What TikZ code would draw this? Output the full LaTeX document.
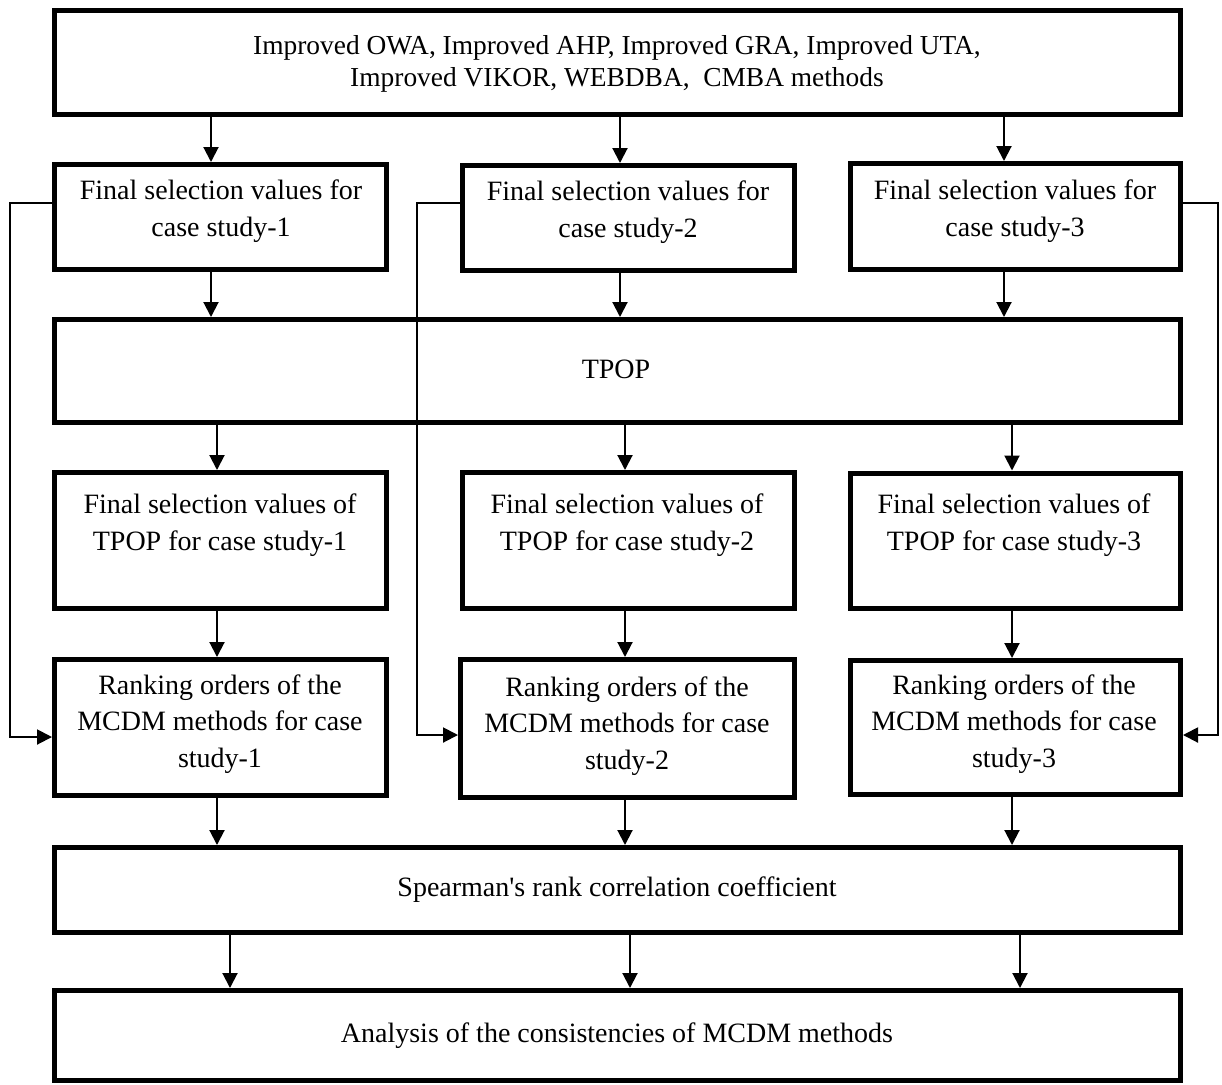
\documentclass[tikz,border=0pt]{standalone}
\usepackage{fontspec}
\setmainfont{Liberation Serif}[Ligatures=TeXOff]
\usetikzlibrary{arrows.meta}
\begin{document}
\begin{tikzpicture}[x=0.5pt,y=-0.5pt,
  box/.style={draw, line width=2.5pt, rectangle, inner sep=0pt},
  wide/.style={box, minimum width=563pt},
  small/.style={box, minimum width=166pt},
  txt/.style={align=center, inner sep=0pt, font=\fontsize{14pt}{18.3pt}\selectfont},
  arr/.style={line width=1pt, -{Triangle[length=7.5pt,width=7.5pt]}},
  link/.style={line width=1pt}]
\useasboundingbox (0,0) rectangle (1222,1084);
% boxes
\node[wide, minimum height=52pt] (top) at (617.5,62.5) {};
\node[small, minimum height=52.5pt] (f1) at (220.5,217) {};
\node[small, minimum height=52.5pt] (f2) at (628.5,218) {};
\node[small, minimum width=165pt, minimum height=53pt] (f3) at (1015.5,216.5) {};
\node[wide, minimum height=51.5pt] (tpop) at (617.5,371) {};
\node[small, minimum height=68pt] (t1) at (220.5,540.5) {};
\node[small, minimum height=68pt] (t2) at (628.5,540.5) {};
\node[small, minimum width=165pt, minimum height=67.5pt] (t3) at (1015.5,540.5) {};
\node[small, minimum height=68pt] (r1) at (220.5,727.5) {};
\node[small, minimum width=167pt, minimum height=69pt] (r2) at (627.5,728.5) {};
\node[small, minimum width=165pt, minimum height=67pt] (r3) at (1015.5,727.5) {};
\node[wide, minimum height=42.5pt] (sp) at (617.5,890) {};
\node[wide, minimum height=45pt] (an) at (617.5,1035.5) {};
% texts
\node[txt, font=\fontsize{13.7pt}{16pt}\selectfont] (toptxt) at (617,64) {Improved OWA, Improved AHP, Improved GRA, Improved UTA,\\Improved VIKOR, WEBDBA,\ \ CMBA methods};
\node[txt] (f1txt) at (221,211) {Final selection values for\\case study-1};
\node[txt] (f2txt) at (628,212) {Final selection values for\\case study-2};
\node[txt] (f3txt) at (1015,211) {Final selection values for\\case study-3};
\node[txt] (tpoptxt) at (616,369) {TPOP};
\node[txt] (t1txt) at (220,525) {Final selection values of\\TPOP for case study-1};
\node[txt] (t2txt) at (627,525) {Final selection values of\\TPOP for case study-2};
\node[txt] (t3txt) at (1014,525) {Final selection values of\\TPOP for case study-3};
\node[txt] (r1txt) at (220,724) {Ranking orders of the\\MCDM methods for case\\study-1};
\node[txt] (r2txt) at (627,726) {Ranking orders of the\\MCDM methods for case\\study-2};
\node[txt] (r3txt) at (1014,724) {Ranking orders of the\\MCDM methods for case\\study-3};
\node[txt] (sptxt) at (617,890) {Spearman's rank correlation coefficient};
\node[txt] (antxt) at (617,1036) {Analysis of the consistencies of MCDM methods};
% column coordinates
\coordinate (a1) at (211,0);
\coordinate (a2) at (620,0);
\coordinate (a3) at (1004,0);
\coordinate (b1) at (217,0);
\coordinate (b2) at (625,0);
\coordinate (b3) at (1012,0);
\coordinate (c1) at (230,0);
\coordinate (c2) at (630,0);
\coordinate (c3) at (1020,0);
\coordinate (s1) at (10,0);
\coordinate (s2) at (417,0);
\coordinate (s3) at (1218,0);
% vertical arrows
\draw[arr] (top.south -| a1) -- (f1.north -| a1);
\draw[arr] (top.south -| a2) -- (f2.north -| a2);
\draw[arr] (top.south -| a3) -- (f3.north -| a3);
\draw[arr] (f1.south -| a1) -- (tpop.north -| a1);
\draw[arr] (f2.south -| a2) -- (tpop.north -| a2);
\draw[arr] (f3.south -| a3) -- (tpop.north -| a3);
\draw[arr] (tpop.south -| b1) -- (t1.north -| b1);
\draw[arr] (tpop.south -| b2) -- (t2.north -| b2);
\draw[arr] (tpop.south -| b3) -- (t3.north -| b3);
\draw[arr] (t1.south -| b1) -- (r1.north -| b1);
\draw[arr] (t2.south -| b2) -- (r2.north -| b2);
\draw[arr] (t3.south -| b3) -- (r3.north -| b3);
\draw[arr] (r1.south -| b1) -- (sp.north -| b1);
\draw[arr] (r2.south -| b2) -- (sp.north -| b2);
\draw[arr] (r3.south -| b3) -- (sp.north -| b3);
\draw[arr] (sp.south -| c1) -- (an.north -| c1);
\draw[arr] (sp.south -| c2) -- (an.north -| c2);
\draw[arr] (sp.south -| c3) -- (an.north -| c3);
% side feedback connectors
\draw[arr] ([yshift=7pt]f1.west) -- ([yshift=7pt]f1.west -| s1) -- ([yshift=-4.75pt]r1.west -| s1) -- ([yshift=-4.75pt]r1.west);
\draw[arr] ([yshift=7.5pt]f2.west) -- ([yshift=7.5pt]f2.west -| s2) -- ([yshift=-3.25pt]r2.west -| s2) -- ([yshift=-3.25pt]r2.west);
\draw[arr] ([yshift=6.75pt]f3.east) -- ([yshift=6.75pt]f3.east -| s3) -- ([yshift=-3.75pt]r3.east -| s3) -- ([yshift=-3.75pt]r3.east);
\end{tikzpicture}
\end{document}
